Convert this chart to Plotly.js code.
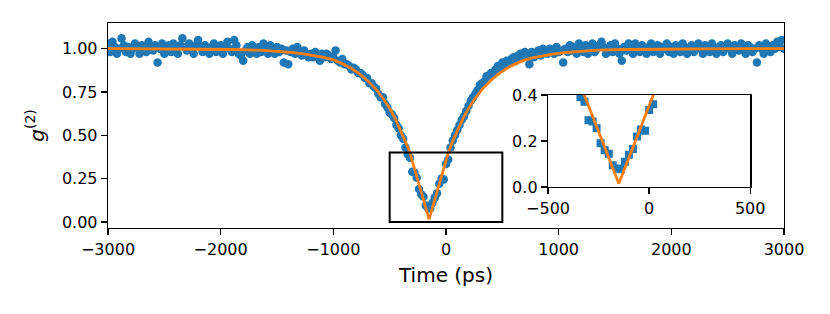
<!DOCTYPE html>
<html>
<head>
<meta charset="utf-8">
<script src="https://cdn.plot.ly/plotly-3.0.1.min.js"></script>
<style>html,body{margin:0;padding:0;background:#fff;}#chart{width:830px;height:314px;}</style>
</head>
<body>
<div id="chart"></div>
<script>
// Measured coincidence histogram: delay time (ps) and normalised g2
const timePs = [
-3000,-2980,-2960,-2940,-2920,-2900,-2880,-2860,-2840,-2820,
-2800,-2780,-2760,-2740,-2720,-2700,-2680,-2660,-2640,-2620,
-2600,-2580,-2560,-2540,-2520,-2500,-2480,-2460,-2440,-2420,
-2400,-2380,-2360,-2340,-2320,-2300,-2280,-2260,-2240,-2220,
-2200,-2180,-2160,-2140,-2120,-2100,-2080,-2060,-2040,-2020,
-2000,-1980,-1960,-1940,-1920,-1900,-1880,-1860,-1840,-1820,
-1800,-1780,-1760,-1740,-1720,-1700,-1680,-1660,-1640,-1620,
-1600,-1580,-1560,-1540,-1520,-1500,-1480,-1460,-1440,-1420,
-1400,-1380,-1360,-1340,-1320,-1300,-1280,-1260,-1240,-1220,
-1200,-1180,-1160,-1140,-1120,-1100,-1080,-1060,-1040,-1020,
-1000,-980,-960,-940,-920,-900,-880,-860,-840,-820,
-800,-780,-760,-740,-720,-700,-680,-660,-640,-620,
-600,-580,-560,-540,-520,-500,-480,-460,-440,-420,
-400,-380,-360,-340,-320,-300,-280,-260,-240,-220,
-200,-180,-160,-140,-120,-100,-80,-60,-40,-20,
0,20,40,60,80,100,120,140,160,180,
200,220,240,260,280,300,320,340,360,380,
400,420,440,460,480,500,520,540,560,580,
600,620,640,660,680,700,720,740,760,780,
800,820,840,860,880,900,920,940,960,980,
1000,1020,1040,1060,1080,1100,1120,1140,1160,1180,
1200,1220,1240,1260,1280,1300,1320,1340,1360,1380,
1400,1420,1440,1460,1480,1500,1520,1540,1560,1580,
1600,1620,1640,1660,1680,1700,1720,1740,1760,1780,
1800,1820,1840,1860,1880,1900,1920,1940,1960,1980,
2000,2020,2040,2060,2080,2100,2120,2140,2160,2180,
2200,2220,2240,2260,2280,2300,2320,2340,2360,2380,
2400,2420,2440,2460,2480,2500,2520,2540,2560,2580,
2600,2620,2640,2660,2680,2700,2720,2740,2760,2780,
2800,2820,2840,2860,2880,2900,2920,2940,2960,2980,
3000];
const g2Data = [
1.03,0.98,1.04,1.01,0.97,1.00,1.06,1.02,0.98,1.01,
0.97,1.00,1.03,1.01,0.97,1.02,1.00,0.98,1.04,1.01,
0.99,1.02,0.92,1.00,1.03,0.97,1.01,1.02,0.98,1.03,
1.00,0.97,1.02,1.06,1.01,0.99,1.03,1.00,0.97,1.02,
1.05,1.01,0.98,1.02,1.00,0.97,1.01,1.03,0.98,1.00,
1.02,0.97,1.01,1.04,1.00,0.98,1.05,1.02,0.97,0.96,
0.93,0.99,1.01,0.97,1.02,1.00,0.97,1.01,0.98,1.03,
1.00,0.97,1.02,0.99,0.97,1.01,0.98,1.00,0.92,0.99,
0.91,0.98,1.00,0.97,1.01,0.98,0.96,0.99,0.97,0.95,
0.97,0.95,0.98,0.96,0.93,0.97,0.95,0.97,0.96,0.94,
0.95,0.99,0.93,0.92,0.94,0.91,0.91,0.90,0.88,0.89,
0.88,0.86,0.86,0.85,0.83,0.83,0.80,0.80,0.78,0.77,
0.74,0.72,0.72,0.68,0.66,0.63,0.62,0.60,0.56,0.54,
0.50,0.48,0.43,0.39,0.37,0.29,0.285,0.255,0.19,0.16,
0.145,0.095,0.08,0.077,0.11,0.14,0.165,0.22,0.25,0.245,
0.335,0.36,0.43,0.47,0.50,0.53,0.56,0.59,0.61,0.64,
0.67,0.70,0.72,0.74,0.76,0.79,0.80,0.81,0.84,0.84,
0.86,0.86,0.88,0.90,0.89,0.92,0.91,0.93,0.92,0.94,
0.95,0.93,0.96,0.97,0.95,0.98,0.96,0.91,0.98,0.95,
0.97,0.99,0.96,1.00,0.98,0.97,1.00,0.99,0.97,1.01,
0.98,0.99,0.92,1.00,0.98,1.02,0.99,1.01,0.97,1.03,
1.00,0.98,1.02,0.97,1.01,1.03,0.98,1.00,1.02,1.04,
1.01,0.97,1.00,1.02,0.98,1.03,1.00,0.97,0.93,1.01,
0.99,1.03,1.00,0.97,1.03,1.01,0.98,1.02,1.00,0.97,
1.01,1.03,0.98,1.00,1.02,0.97,1.01,1.00,1.03,0.98,
1.01,0.97,1.02,1.00,0.98,1.03,1.01,0.97,1.00,1.02,
0.98,1.01,1.03,1.00,0.97,1.02,1.00,0.98,1.03,1.01,
0.97,1.00,1.02,0.98,1.01,1.03,1.00,0.97,1.02,1.01,
0.99,1.03,1.00,0.97,1.02,1.01,0.98,1.00,0.92,1.02,
1.00,0.97,1.03,1.01,0.98,1.02,1.00,1.04,1.01,1.05,
1.00];
// Fitted curve
const fitTime = [-3000,-2650,-2150,-1900,-1650,-1500,-1350,-1250,-1150,-1075,-1000,-925,-850,-770,-695,-620,-550,-500,-450,-408,-370,-325,-290,-250,-200,-150,
-100,-50,-10,25,70,108,150,200,250,320,395,470,550,625,700,775,850,950,1050,1200,1350,1600,1850,2350,3000];
const fitG2 = [1.0,0.999,0.997,0.995,0.991,0.986,0.977,0.969,0.958,0.948,0.935,0.915,0.89,0.856,0.815,0.765,0.705,0.655,0.595,0.537,0.478,0.41,0.33,0.24,0.125,0.015,
0.127,0.24,0.33,0.41,0.482,0.537,0.595,0.655,0.705,0.765,0.815,0.856,0.89,0.915,0.935,0.948,0.958,0.969,0.977,0.986,0.991,0.995,0.997,0.999,1.0];
const mainXTicks = [-3000,-2000,-1000,0,1000,2000,3000];
const mainYTicks = [0,0.25,0.5,0.75,1.0];
const insetXTicks = [-500,0,500];
const insetYTicks = [0,0.2,0.4];
const zoomBox = {x0:-500, x1:500, y0:0, y1:0.4};

const BLUE = '#1f77b4', ORANGE = '#ff7f0e';
const FONT = 'DejaVu Sans, sans-serif';

const traces = [
  {x: timePs, y: g2Data, type: 'scatter', mode: 'markers', xaxis: 'x', yaxis: 'y',
   marker: {color: BLUE, size: 8.5, symbol: 'circle', line: {width: 0}}, hoverinfo: 'skip'},
  {x: fitTime, y: fitG2, type: 'scatter', mode: 'lines', xaxis: 'x', yaxis: 'y',
   line: {color: ORANGE, width: 2.8}, hoverinfo: 'skip'},
  {x: timePs, y: g2Data, type: 'scatter', mode: 'markers', xaxis: 'x2', yaxis: 'y2',
   marker: {color: BLUE, size: 8, symbol: 'square', line: {width: 0}}, hoverinfo: 'skip'},
  {x: fitTime, y: fitG2, type: 'scatter', mode: 'lines', xaxis: 'x2', yaxis: 'y2',
   line: {color: ORANGE, width: 2.8}, hoverinfo: 'skip'}
];

const axCommon = {showline: true, linecolor: '#000', linewidth: 1.3, mirror: true,
  ticks: 'outside', ticklen: 6, tickwidth: 1.3, tickcolor: '#000',
  showgrid: false, zeroline: false, tickfont: {family: FONT, size: 16, color: '#000'}};

const layout = {
  width: 830, height: 314,
  margin: {l: 108, r: 46, t: 23, b: 86},
  paper_bgcolor: '#fff', plot_bgcolor: '#fff',
  showlegend: false,
  font: {family: FONT, color: '#000'},
  xaxis: Object.assign({}, axCommon, {range: [-3000, 3000], tickvals: mainXTicks,
    title: {text: 'Time (ps)', font: {family: FONT, size: 20}, standoff: 10}, domain: [0, 1], anchor: 'y'}),
  yaxis: Object.assign({}, axCommon, {range: [-0.035, 1.148], tickvals: mainYTicks, tickformat: '.2f',
    title: {text: '<i>g</i><sup>(2)</sup>', font: {family: FONT, size: 20}, standoff: 12}, domain: [0, 1], anchor: 'x'}),
  xaxis2: Object.assign({}, axCommon, {range: [-500, 500], tickvals: insetXTicks,
    domain: [0.651, 0.950], anchor: 'y2'}),
  yaxis2: Object.assign({}, axCommon, {range: [0, 0.4], tickvals: insetYTicks, tickformat: '.1f',
    domain: [0.2, 0.649], anchor: 'x2'}),
  shapes: [{type: 'rect', xref: 'x', yref: 'y', x0: zoomBox.x0, x1: zoomBox.x1, y0: zoomBox.y0, y1: zoomBox.y1,
    line: {color: '#000', width: 2}, fillcolor: 'rgba(0,0,0,0)', layer: 'above'}]
};

Plotly.newPlot('chart', traces, layout, {staticPlot: true, displayModeBar: false});
</script>
</body>
</html>
